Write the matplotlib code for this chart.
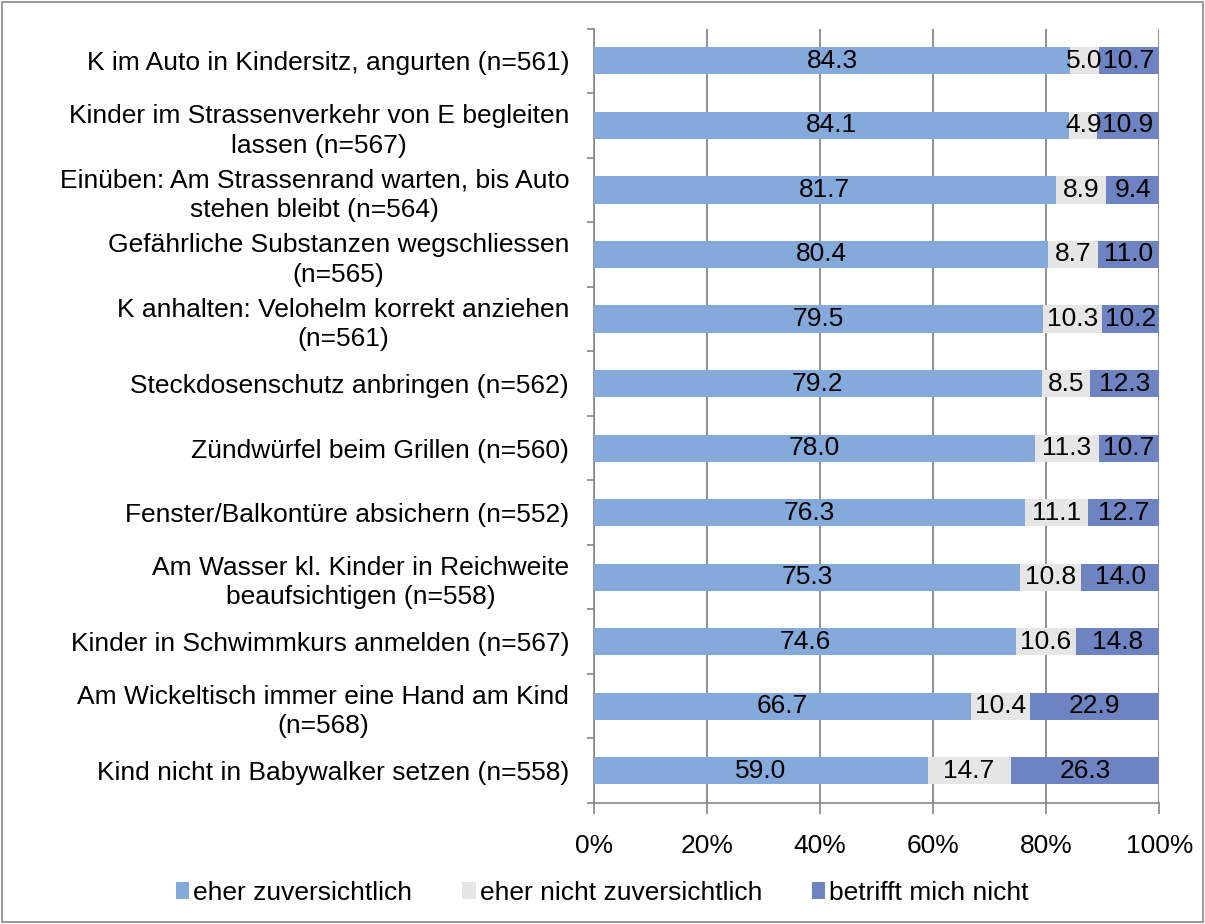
import numpy as np
import matplotlib.pyplot as plt

plt.rcParams['font.family'] = ['Liberation Sans', 'DejaVu Sans']

kategorien = [
    "K im Auto in Kindersitz, angurten (n=561)",
    "Kinder im Strassenverkehr von E begleiten\nlassen (n=567)",
    "Einüben: Am Strassenrand warten, bis Auto\nstehen bleibt (n=564)",
    "Gefährliche Substanzen wegschliessen\n(n=565)",
    "K anhalten: Velohelm korrekt anziehen\n(n=561)",
    "Steckdosenschutz anbringen (n=562)",
    "Zündwürfel beim Grillen (n=560)",
    "Fenster/Balkontüre absichern (n=552)",
    "Am Wasser kl. Kinder in Reichweite\nbeaufsichtigen (n=558)",
    "Kinder in Schwimmkurs anmelden (n=567)",
    "Am Wickeltisch immer eine Hand am Kind\n(n=568)",
    "Kind nicht in Babywalker setzen (n=558)",
]
zuversichtlich = [84.3, 84.1, 81.7, 80.4, 79.5, 79.2, 78.0, 76.3, 75.3, 74.6, 66.7, 59.0]
nicht_zuversichtlich = [5.0, 4.9, 8.9, 8.7, 10.3, 8.5, 11.3, 11.1, 10.8, 10.6, 10.4, 14.7]
betrifft_nicht = [10.7, 10.9, 9.4, 11.0, 10.2, 12.3, 10.7, 12.7, 14.0, 14.8, 22.9, 26.3]

serien = ["eher zuversichtlich", "eher nicht zuversichtlich", "betrifft mich nicht"]
farben = ["#84A9DB", "#E6E6E6", "#6E84C2"]

fs = 19

fig = plt.figure(figsize=(12.05, 9.24), dpi=100)
ax = fig.add_axes([0.493, 0.131, 0.469, 0.838])

y = np.arange(len(kategorien))
links = np.zeros(len(kategorien))
for werte, name, farbe in zip([zuversichtlich, nicht_zuversichtlich, betrifft_nicht], serien, farben):
    werte = np.array(werte)
    ax.barh(y, werte, left=links, height=0.42, color=farbe, label=name, zorder=3)
    for yi, l, w in zip(y, links, werte):
        ax.text(l + w / 2, yi, f"{w:.1f}", ha='center', va='center', fontsize=fs, zorder=4)
    links = links + werte

ax.set_xlim(0, 100)
ax.set_ylim(len(kategorien) - 0.5, -0.5)
ax.set_xticks(np.arange(0, 101, 20))
ax.set_xticklabels([f"{v}%" for v in range(0, 101, 20)], fontsize=fs)
ax.set_yticks(y)
ax.set_yticklabels(kategorien, fontsize=fs, ha='right', multialignment='center', linespacing=1.3)
ax.tick_params(axis='y', length=0, pad=18)
ax.tick_params(axis='x', length=8, width=1.2, color='#888888', pad=14, direction='out')
ax.set_yticks(np.arange(-0.5, len(kategorien) + 0.5, 1), minor=True)
ax.tick_params(axis='y', which='minor', length=5, width=1.2, color='#888888')
ax.grid(axis='x', color='#888888', linewidth=1.3, zorder=0)
for s in ['top', 'right']:
    ax.spines[s].set_visible(False)
for s in ['left', 'bottom']:
    ax.spines[s].set_color('#888888')
    ax.spines[s].set_linewidth(1.2)

fig.legend(loc='lower center', bbox_to_anchor=(0.5, -0.005), ncol=3, frameon=False, fontsize=fs,
           handlelength=0.5, handleheight=0.6, handletextpad=0.15, columnspacing=1.9)

rahmen = plt.Rectangle((0.002, 0.002), 0.996, 0.996, transform=fig.transFigure,
                       fill=False, edgecolor='#888888', linewidth=1.2)
fig.patches.append(rahmen)

fig.savefig('out.png', dpi=100)
